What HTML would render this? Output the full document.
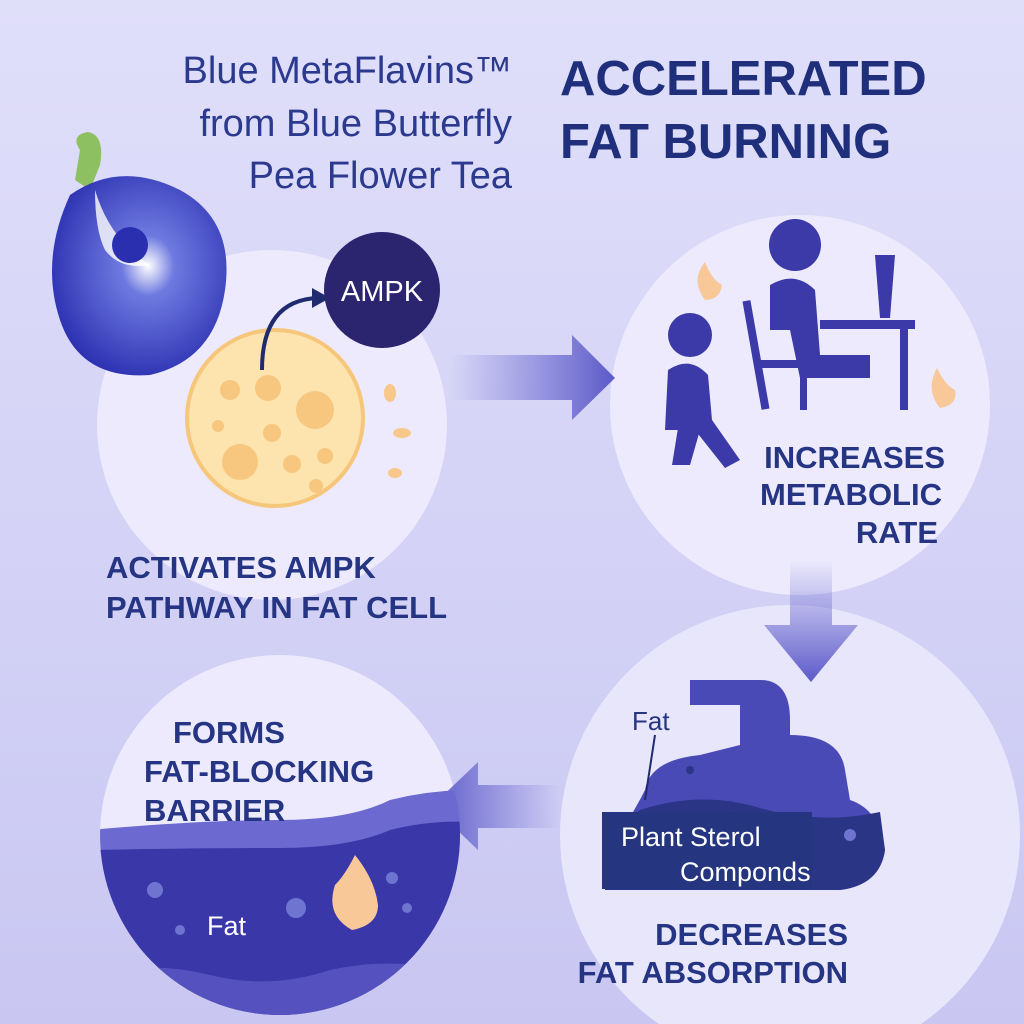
<!DOCTYPE html>
<html><head><meta charset="utf-8"><style>
html,body{margin:0;padding:0;width:1024px;height:1024px;overflow:hidden}
svg{display:block}
text{font-family:"Liberation Sans","DejaVu Sans",sans-serif}
</style></head><body>
<svg width="1024" height="1024" viewBox="0 0 1024 1024" xmlns="http://www.w3.org/2000/svg">
<defs>
<linearGradient id="bg" x1="0" y1="0" x2="0" y2="1">
<stop offset="0" stop-color="#e0dffa"/><stop offset="1" stop-color="#c9c7f2"/></linearGradient>
<linearGradient id="ar" x1="0" y1="0" x2="1" y2="0">
<stop offset="0" stop-color="#6a68d0" stop-opacity="0"/><stop offset="1" stop-color="#5c5ac8"/></linearGradient>
<linearGradient id="al" x1="1" y1="0" x2="0" y2="0">
<stop offset="0" stop-color="#6a68d0" stop-opacity="0"/><stop offset="1" stop-color="#5c5ac8"/></linearGradient>
<linearGradient id="ad" x1="0" y1="0" x2="0" y2="1">
<stop offset="0" stop-color="#6a68d0" stop-opacity="0"/><stop offset="1" stop-color="#5c5ac8"/></linearGradient>
<radialGradient id="fl" cx="0.55" cy="0.45" r="0.6">
<stop offset="0" stop-color="#ffffff"/><stop offset="0.25" stop-color="#6f7ae0"/><stop offset="1" stop-color="#2a2fb0"/></radialGradient>
<clipPath id="c4"><circle cx="280" cy="835" r="180"/></clipPath>
</defs>
<rect width="1024" height="1024" fill="url(#bg)"/>
<!-- circles -->
<circle cx="272" cy="425" r="175" fill="#eceafc"/>
<circle cx="800" cy="405" r="190" fill="#eceafc"/>
<circle cx="790" cy="835" r="230" fill="#e8e6fb"/>
<circle cx="280" cy="835" r="180" fill="#eceafc"/>
<!-- titles -->
<g fill="#2b3a8e" font-size="38" text-anchor="end">
<text x="512" y="83">Blue MetaFlavins™</text>
<text x="512" y="136">from Blue Butterfly</text>
<text x="512" y="188">Pea Flower Tea</text>
</g>
<g fill="#1f2f7c" font-size="49" font-weight="bold">
<text x="560" y="95">ACCELERATED</text>
<text x="560" y="158">FAT BURNING</text>
</g>
<!-- flower -->
<path d="M80 150 Q70 135 88 132 Q105 135 100 165 L90 190 L75 180 Z" fill="#8cc060"/>
<path d="M70 195 Q120 160 180 190 Q235 220 225 290 Q215 360 150 375 Q80 380 60 320 Q40 260 70 195 Z" fill="url(#fl)"/>
<path d="M95 190 Q110 240 150 265 Q120 270 105 250 Q95 230 95 190Z" fill="#fff" opacity="0.8"/>
<circle cx="130" cy="245" r="18" fill="#2a2fb0"/>
<!-- fat cell -->
<circle cx="275" cy="418" r="88" fill="#fde3ad" stroke="#f6c77a" stroke-width="4"/>
<g fill="#f7c77f">
<circle cx="268" cy="388" r="13"/><circle cx="315" cy="410" r="19"/><circle cx="230" cy="390" r="10"/>
<circle cx="240" cy="462" r="18"/><circle cx="272" cy="433" r="9"/><circle cx="292" cy="464" r="9"/>
<circle cx="325" cy="456" r="8"/><circle cx="316" cy="486" r="7"/><circle cx="218" cy="426" r="6"/></g>
<g fill="#f8c88a"><ellipse cx="390" cy="393" rx="6" ry="9"/><ellipse cx="402" cy="433" rx="9" ry="5"/><ellipse cx="395" cy="473" rx="7" ry="5"/></g>
<path d="M262 370 Q262 300 318 298" fill="none" stroke="#1f2b6e" stroke-width="4"/>
<path d="M312 288 L330 298 L312 308 Z" fill="#1f2b6e"/>
<circle cx="382" cy="290" r="58" fill="#2b246e"/>
<text x="382" y="301" fill="#fff" font-size="29" text-anchor="middle">AMPK</text>
<g fill="#253584" font-size="31" font-weight="bold">
<text x="106" y="578">ACTIVATES AMPK</text>
<text x="106" y="618">PATHWAY IN FAT CELL</text>
</g>
<!-- arrows -->
<path d="M450 355 L572 355 L572 335 L615 378 L572 420 L572 400 L450 400 Z" fill="url(#ar)"/>
<path d="M790 560 L832 560 L832 625 L858 625 L811 682 L764 625 L790 625 Z" fill="url(#ad)"/>
<path d="M560 785 L478 785 L478 762 L432 806 L478 850 L478 828 L560 828 Z" fill="url(#al)"/>
<!-- people -->
<g fill="#3b3aa8">
<circle cx="795" cy="245" r="26"/>
<path d="M770 285 Q795 270 815 290 L820 355 L870 355 L870 378 L800 378 L790 330 L770 330 Z"/>
<rect x="820" y="320" width="95" height="9"/>
<rect x="900" y="328" width="8" height="82"/>
<path d="M875 255 L895 255 L890 318 L880 318 Z"/>
<circle cx="690" cy="335" r="22"/>
<path d="M668 370 Q690 355 708 375 L712 420 L740 460 L725 468 L695 430 L665 430 Z"/>
<path d="M678 428 L700 430 L690 465 L672 465 Z"/>
<rect x="752" y="300" width="8" height="110" transform="rotate(-10 756 355)"/>
<rect x="760" y="360" width="50" height="8"/>
<rect x="800" y="365" width="7" height="45"/>
</g>
<path d="M705 300 Q690 280 705 262 Q712 280 722 285 Q720 300 705 300Z" fill="#f8c898"/>
<path d="M940 408 Q925 390 937 368 Q945 385 955 390 Q958 405 940 408Z" fill="#f8c898"/>
<g fill="#253584" font-size="31" font-weight="bold" text-anchor="end">
<text x="945" y="468">INCREASES</text>
<text x="942" y="505">METABOLIC</text>
<text x="938" y="543">RATE</text>
</g>
<!-- stomach -->
<path d="M690 680 L760 680 Q790 680 790 720 L790 735 Q840 735 845 770 L850 800 Q880 810 885 850 Q880 885 840 890 L605 890 L605 855 Q630 820 645 790 Q650 760 700 755 L740 745 L740 705 L690 705 Z" fill="#4a4ab6"/>
<path d="M640 810 Q700 790 760 808 Q820 825 880 812 L885 850 Q880 885 840 890 L605 890 L605 840 Z" fill="#2b3585"/>
<rect x="602" y="812" width="210" height="77" fill="#25357f"/>
<circle cx="690" cy="770" r="4" fill="#2b3585"/><circle cx="730" cy="805" r="4" fill="#2b3585"/>
<circle cx="850" cy="835" r="6" fill="#6e74d0"/>
<path d="M655 735 L645 800" stroke="#1f2b6e" stroke-width="2"/>
<text x="632" y="730" fill="#25357f" font-size="26">Fat</text>
<text x="621" y="846" fill="#fff" font-size="27">Plant Sterol</text>
<text x="680" y="881" fill="#fff" font-size="27">Componds</text>
<g fill="#253584" font-size="31" font-weight="bold" text-anchor="end">
<text x="848" y="945">DECREASES</text>
<text x="848" y="983">FAT ABSORPTION</text>
</g>
<!-- barrier -->
<g clip-path="url(#c4)">
<path d="M90 830 Q200 820 280 820 Q350 820 390 800 Q430 790 470 790 L470 1020 L90 1020 Z" fill="#6c6ad0"/>
<path d="M90 850 Q200 848 280 848 Q350 848 390 830 Q430 820 470 822 L470 1020 L90 1020 Z" fill="#3a38a8"/>
<path d="M90 975 Q150 960 210 975 Q270 990 330 970 Q400 955 470 975 L470 1020 L90 1020Z" fill="#5552c0"/>
<circle cx="155" cy="890" r="8" fill="#6e74d0"/><circle cx="180" cy="930" r="5" fill="#6e74d0"/>
<circle cx="296" cy="908" r="10" fill="#6e74d0"/><circle cx="392" cy="878" r="6" fill="#6e74d0"/><circle cx="407" cy="908" r="5" fill="#6e74d0"/>
<path d="M352 930 Q325 915 335 885 Q345 875 355 855 Q375 880 378 905 Q378 925 352 930Z" fill="#f8c898"/>
</g>
<text x="207" y="935" fill="#fff" font-size="27">Fat</text>
<g fill="#253584" font-size="31" font-weight="bold">
<text x="173" y="743">FORMS</text>
<text x="144" y="782">FAT-BLOCKING</text>
<text x="144" y="821">BARRIER</text>
</g>
</svg>
</body></html>
